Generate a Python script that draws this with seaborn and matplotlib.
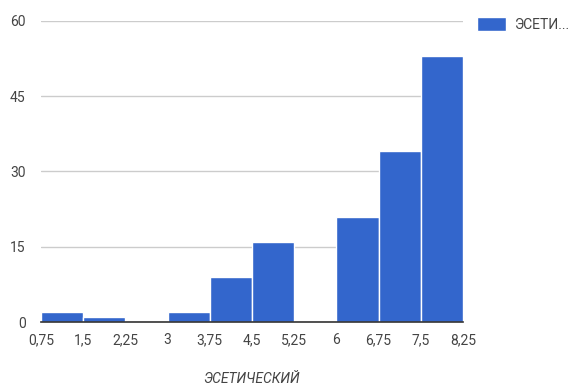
import matplotlib
matplotlib.use("Agg")
import matplotlib.pyplot as plt
import numpy as np
import seaborn as sns

# Bin edges (step 0.75) and counts per bin
bin_edges = [0.75, 1.5, 2.25, 3.0, 3.75, 4.5, 5.25, 6.0, 6.75, 7.5, 8.25]
bin_counts = [2, 1, 0, 2, 9, 16, 0, 21, 34, 53]
tick_labels = ["0,75", "1,5", "2,25", "3", "3,75", "4,5", "5,25", "6", "6,75", "7,5", "8,25"]
y_ticks = [0, 15, 30, 45, 60]
series_name = "ЭСЕТИ..."
axis_title = "ЭСЕТИЧЕСКИЙ"

BAR = "#3366CC"
TEXT = "#444444"

sns.set_theme(style="white")
plt.rcParams["font.family"] = ["Roboto", "DejaVu Sans"]

fig = plt.figure(figsize=(5.72, 3.89), dpi=100)
ax = fig.add_axes([41 / 572, 1 - 322 / 389, (463 - 41) / 572, (322 - 20.7) / 389])

centers = [(a + b) / 2 for a, b in zip(bin_edges[:-1], bin_edges[1:])]
sns.histplot(x=centers, weights=bin_counts, bins=bin_edges, ax=ax,
             color=BAR, alpha=1, edgecolor="white", linewidth=1,
             label=series_name, zorder=3)

ax.set_xlim(bin_edges[0], bin_edges[-1])
ax.set_ylim(0, 60)
ax.set_yticks(y_ticks)
ax.set_yticklabels([str(v) for v in y_ticks])
ax.set_xticks(bin_edges)
ax.set_xticklabels(tick_labels)
ax.tick_params(axis="y", length=0, pad=11, labelsize=10, labelcolor=TEXT)
ax.tick_params(axis="x", length=0, pad=8, labelsize=10, labelcolor=TEXT)
ax.grid(axis="y", color="#cccccc", linewidth=1, zorder=0)
ax.grid(axis="x", visible=False)
for s in ["top", "right", "left"]:
    ax.spines[s].set_visible(False)
ax.spines["bottom"].set_color("#333333")
ax.spines["bottom"].set_linewidth(1.2)
ax.spines["bottom"].set_zorder(5)

ax.set_ylabel("")
ax.set_xlabel(axis_title, fontsize=10, style="italic", color=TEXT)
ax.xaxis.set_label_coords(0.5, -0.165)

leg = ax.legend(loc="upper left", bbox_to_anchor=(1.02, 1.03), frameon=False,
                fontsize=10, handlelength=2.1, handleheight=1.15,
                handletextpad=0.55, borderaxespad=0)
for t in leg.get_texts():
    t.set_color(TEXT)

fig.savefig("out.png", dpi=100)
